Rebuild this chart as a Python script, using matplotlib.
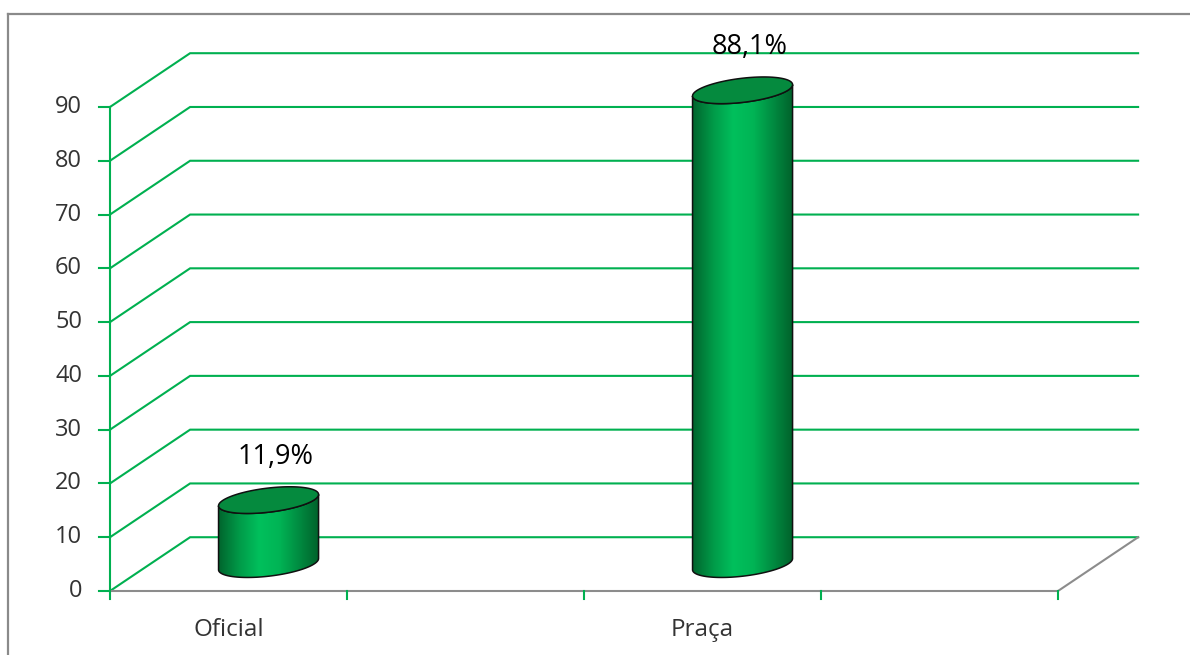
import numpy as np
import matplotlib
matplotlib.use('Agg')
import matplotlib.pyplot as plt
from matplotlib.patches import Polygon
from matplotlib.colors import LinearSegmentedColormap

# chart data
categories = ['Oficial', 'Praça']
values = [11.9, 88.1]
y_ticks = [0, 10, 20, 30, 40, 50, 60, 70, 80, 90]
n_slots = 4          # category axis has 4 slots, bars sit in slots 0 and 2

GRID = '#00b050'
FLOOR = '#8c8c8c'
TXT = '#333333'
FONT = 'Open Sans'

# 3D depth offset in data units (x in slots, y in value units)
DX, DY = 0.338, 10.0

fig = plt.figure(figsize=(11.9, 6.55), dpi=100)
ax = fig.add_axes([0, 0, 1, 1])
ax.set_xlim(-110 / 237, (1190 - 110) / 237)
ax.set_ylim(-(655 - 591) / 5.378, 591 / 5.378)
ax.axis('off')

# outer frame (top and left visible)
fig.add_artist(plt.Line2D([8 / 1190, 8 / 1190], [0, 1 - 14 / 655],
                          transform=fig.transFigure, color='#8a8a8a', lw=1.6))
fig.add_artist(plt.Line2D([8 / 1190, 1], [1 - 14 / 655, 1 - 14 / 655],
                          transform=fig.transFigure, color='#8a8a8a', lw=1.6))

# back wall gridlines + left wall diagonals
for v in y_ticks:
    ax.plot([0, DX, n_slots + DX], [v, v + DY, v + DY], color=GRID, lw=1.5,
            solid_joinstyle='miter', zorder=1)

# vertical value axis with ticks
ax.plot([0, 0], [0, y_ticks[-1]], color=GRID, lw=1.5, zorder=2)
for v in y_ticks:
    ax.plot([-0.045, 0], [v, v], color=GRID, lw=1.5, zorder=2)
    ax.text(-0.118, v, str(v), ha='right', va='center', fontsize=17,
            color=TXT, family=FONT)

# floor edges
ax.plot([0, n_slots, n_slots + DX], [0, 0, DY], color=FLOOR, lw=1.5, zorder=2)
for k in range(n_slots + 1):
    ax.plot([k, k], [0, -1.5], color=GRID, lw=1.5, zorder=2)

body_cmap = LinearSegmentedColormap.from_list(
    'cyl', ['#00662e', '#009a48', '#00c05c', '#00b455', '#008a40', '#005f2a'])


def draw_cylinder(cx, base, top, a=0.211, b=2.25, s=1.05):
    t_low = np.linspace(np.pi, 2 * np.pi, 120)
    top_lo = np.column_stack([cx + a * np.cos(t_low),
                              top + b * np.sin(t_low) + s * np.cos(t_low)])
    bot_lo = np.column_stack([cx + a * np.cos(t_low),
                              base + b * np.sin(t_low) + s * np.cos(t_low)])
    body = np.vstack([top_lo, bot_lo[::-1]])
    patch = Polygon(body, closed=True, facecolor='none', edgecolor='#101010',
                    lw=1.1, zorder=5)
    ax.add_patch(patch)
    grad = np.linspace(0, 1, 256).reshape(1, -1)
    im = ax.imshow(grad, cmap=body_cmap, aspect='auto', zorder=4,
                   extent=(cx - a, cx + a, base - b - s - 1, top + b + s + 1),
                   interpolation='bilinear')
    clip = Polygon(body, closed=True, transform=ax.transData)
    im.set_clip_path(clip)
    t = np.linspace(0, 2 * np.pi, 240)
    cap = np.column_stack([cx + a * np.cos(t),
                           top + b * np.sin(t) + s * np.cos(t)])
    ax.add_patch(Polygon(cap, closed=True, facecolor='#058a3e',
                         edgecolor='#101010', lw=1.1, zorder=6))


for i, (name, val) in enumerate(zip(categories, values)):
    slot = 2 * i
    cx = slot + 0.5 + DX / 2
    base = DY / 2
    draw_cylinder(cx, base, base + val)
    ax.text(cx + 0.03, base + val + 8.0, f'{val:.1f}%'.replace('.', ','),
            ha='center', va='center', fontsize=19.5, color='black', family=FONT)
    ax.text(slot + 0.5, -7.2, name, ha='center', va='center', fontsize=17.5,
            color=TXT, family=FONT)

fig.savefig('out.png', dpi=100)
